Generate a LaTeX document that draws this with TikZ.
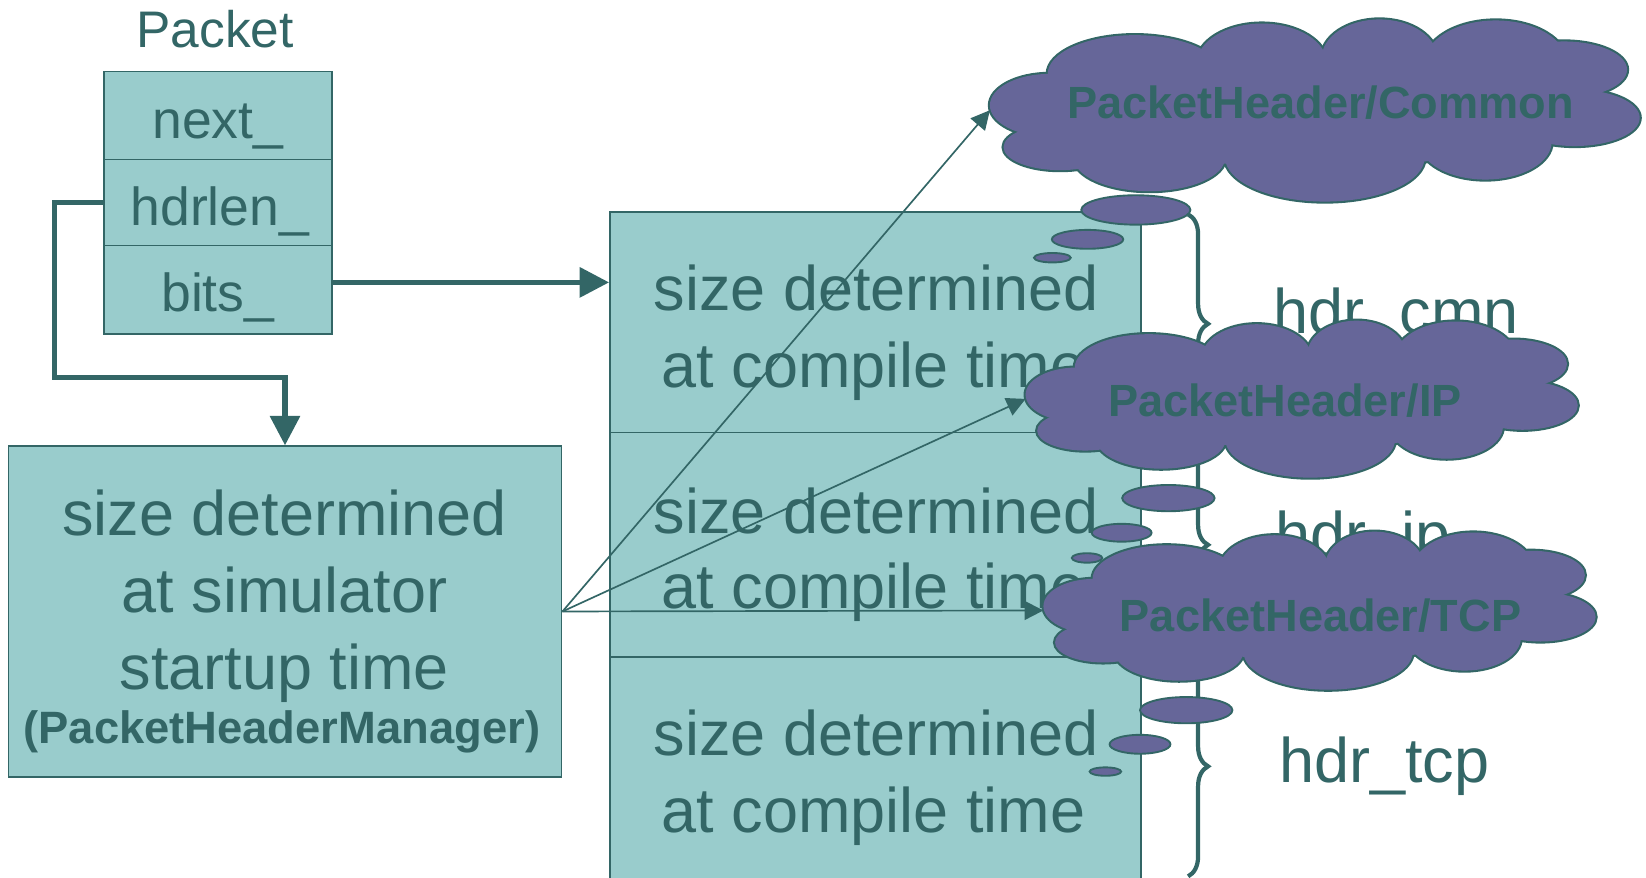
\documentclass[tikz,border=0pt]{standalone}
\usepackage{fontspec}
\setmainfont{Liberation Sans}
\usetikzlibrary{arrows.meta,shapes.geometric,decorations.pathreplacing,calc}
\definecolor{tealdark}{HTML}{336666}
\definecolor{tealfill}{HTML}{99CCCC}
\definecolor{puff}{HTML}{666699}

% cloud outline built from overlapping ellipses, in a box of half-size 1 x 1
\tikzset{
  pics/hdrcloud/.style={code={
    \foreach \u/\v/\ru/\rv in {
      -0.816/-0.054/0.184/0.344, -0.784/0.404/0.174/0.252, -0.509/0.519/0.233/0.367,
       0.031/0.519/0.307/0.481,   0.525/0.346/0.204/0.413,  0.800/0.083/0.200/0.309,
       0.767/-0.444/0.194/0.309, -0.554/-0.398/0.268/0.424, -0.163/-0.513/0.200/0.436,
       0.199/-0.570/0.178/0.424,  0.557/-0.513/0.220/0.470,  0.000/0.000/0.740/0.630}
      {\draw[tealdark, line width=2pt] (\u,\v) ellipse [x radius=\ru, y radius=\rv];}
    \foreach \u/\v/\ru/\rv in {
      -0.816/-0.054/0.184/0.344, -0.784/0.404/0.174/0.252, -0.509/0.519/0.233/0.367,
       0.031/0.519/0.307/0.481,   0.525/0.346/0.204/0.413,  0.800/0.083/0.200/0.309,
       0.767/-0.444/0.194/0.309, -0.554/-0.398/0.268/0.424, -0.163/-0.513/0.200/0.436,
       0.199/-0.570/0.178/0.424,  0.557/-0.513/0.220/0.470,  0.000/0.000/0.740/0.630}
      {\fill[puff] (\u,\v) ellipse [x radius=\ru, y radius=\rv];}
  }}
}

\begin{document}
\begin{tikzpicture}[x=0.5pt, y=-0.5pt,
  cell/.style={draw=tealdark, fill=tealfill, line width=0.8pt, inner sep=0pt},
  lbl/.style={text=tealdark, anchor=base, inner sep=0pt},
  big/.style={lbl, font=\fontsize{30pt}{36pt}\selectfont},
  fld/.style={lbl, font=\fontsize{25.5pt}{30pt}\selectfont},
  mgr/.style={lbl, font=\bfseries\fontsize{21.6pt}{26pt}\selectfont},
  thickarr/.style={draw=tealdark, line width=2.4pt, -{Triangle[length=14pt,width=14pt]}},
  thinarr/.style={draw=tealdark, line width=0.8pt, -{Triangle[length=9pt,width=9pt]}},
  hbrace/.style={draw=tealdark, line width=2pt, decorate, decoration={brace, amplitude=9.5pt}},
  cloudbox/.style={inner sep=0pt, outer sep=0pt},
  cloudtxt/.style={text=tealdark, font=\bfseries\fontsize{21.5pt}{26pt}\selectfont, inner sep=0pt},
  bubble/.style={ellipse, draw=tealdark, fill=puff, line width=0.9pt, inner sep=0pt}
]
\useasboundingbox (0,0) rectangle (1568,836);

% Packet object
\node[lbl, font=\fontsize{24.5pt}{30pt}\selectfont] (tpacket) at (205,45) {Packet};
\node[cell, minimum width=108.5pt, minimum height=42pt] (next) at (207.5,110) {};
\node[cell, minimum width=108.5pt, minimum height=41pt] (hdrlen) at (207.5,193) {};
\node[cell, minimum width=108.5pt, minimum height=42pt] (bits) at (207.5,276) {};
\node[fld] (tnext) at (207.5,132) {next\_};
\node[fld] (thdrlen) at (209.5,215) {hdrlen\_};
\node[fld] (tbits) at (207.5,297) {bits\_};

% header buffer, one section per header
\node[cell, minimum width=253pt, minimum height=105pt] (sec1) at (834,307) {};
\node[cell, minimum width=253pt, minimum height=107pt] (sec2) at (834,519) {};
\node[cell, minimum width=253pt, minimum height=107pt] (sec3) at (834,733) {};
\node[big] (s1a) at (834.5,296) {size determined};
\node[big] (s1b) at (832,369) {at compile time};
\node[big] (s2a) at (834.5,508) {size determined};
\node[big] (s2b) at (832,580) {at compile time};
\node[big] (s3a) at (834.5,720) {size determined};
\node[big] (s3b) at (832,793) {at compile time};

% header manager
\node[cell, minimum width=263.5pt, minimum height=157.5pt] (mgrbox) at (271.5,582.5) {};
\node[big] (m1) at (271,510) {size determined};
\node[big] (m2) at (271,583) {at simulator};
\node[big] (m3) at (271,657) {startup time};
\node[mgr] (m4) at (268.5,708) {(PacketHeaderManager)};

% braces and header names
\draw[hbrace] ([xshift=22pt,yshift=-1.5pt]sec1.north east) -- ([xshift=22pt]sec1.south east);
\draw[hbrace] ([xshift=22pt]sec2.north east) -- ([xshift=22pt]sec2.south east);
\draw[hbrace] ([xshift=22pt]sec3.north east) -- ([xshift=22pt,yshift=3pt]sec3.south east);
\node[big, anchor=base west] (hcmn) at (1213,318) {hdr\_cmn};
\node[big, anchor=base west] (hip) at (1215,530) {hdr\_ip};
\node[big, anchor=base west] (htcp) at (1218,745) {hdr\_tcp};

% pointers
\coordinate (elbow) at (52,360);
\draw[thickarr] ([yshift=3.5pt]bits.east) -- ([yshift=3.5pt]bits.east -| sec1.west);
\draw[thickarr] (hdrlen.west) -| (elbow) -| (mgrbox.north);

% header classes
\node[cloudbox, minimum width=309.5pt, minimum height=87pt] (common) at (1252.5,105) {};
\node[cloudbox, minimum width=263pt, minimum height=75pt] (ip) at (1240,380) {};
\node[cloudbox, minimum width=263pt, minimum height=75.5pt] (tcp) at (1257,581.5) {};
\draw[thinarr] (mgrbox.east) -- (common.west);
\draw[thinarr] (mgrbox.east) -- (ip.west);
\draw[thinarr] (mgrbox.east) -- (tcp.west);
\pic[x=154.75pt, y=-43.5pt] at (common.center) {hdrcloud};
\pic[x=131.5pt, y=-37.5pt] at (ip.center) {hdrcloud};
\pic[x=131.5pt, y=-37.75pt] at (tcp.center) {hdrcloud};
\node[cloudtxt] (tcommon) at (1258,98) {PacketHeader/Common};
\node[cloudtxt] (tip) at (1224,382) {PacketHeader/IP};
\node[cloudtxt] (ttcp) at (1258,586) {PacketHeader/TCP};

% thought bubbles
\node[bubble, minimum width=52pt, minimum height=14pt] (cb1) at (1082,200) {};
\node[bubble, minimum width=34pt, minimum height=9pt] (cb2) at (1036,228) {};
\node[bubble, minimum width=17.5pt, minimum height=4.5pt] (cb3) at (1002.5,245.5) {};
\node[bubble, minimum width=44pt, minimum height=12.5pt] (ib1) at (1113,474.5) {};
\node[bubble, minimum width=28.5pt, minimum height=8.5pt] (ib2) at (1068.5,507.5) {};
\node[bubble, minimum width=14.5pt, minimum height=4.5pt] (ib3) at (1035.5,531.5) {};
\node[bubble, minimum width=44pt, minimum height=12.5pt] (tb1) at (1130,676.5) {};
\node[bubble, minimum width=29pt, minimum height=9pt] (tb2) at (1086,709) {};
\node[bubble, minimum width=15pt, minimum height=4pt] (tb3) at (1053,735) {};
\end{tikzpicture}
\end{document}
